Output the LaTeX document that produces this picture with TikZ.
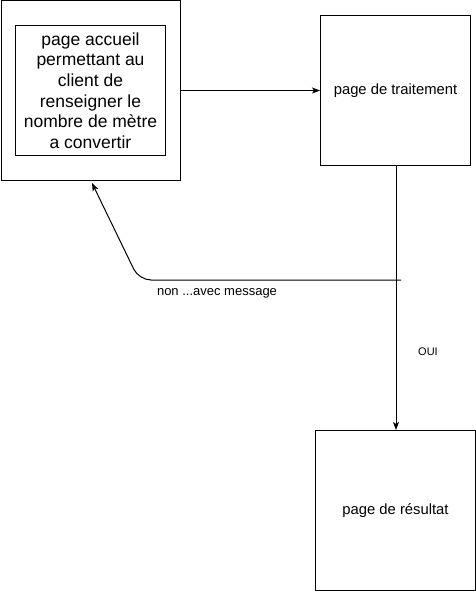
\documentclass[tikz,border=0pt]{standalone}
\usepackage{fontspec}
\setmainfont{Liberation Sans}
\usetikzlibrary{arrows.meta}
\begin{document}
\begin{tikzpicture}[x=1pt,y=-1pt,
  box/.style={draw=black,line width=1pt,inner sep=0pt,anchor=north west},
  conn/.style={draw=black,line width=1pt,-{Stealth[length=8pt,width=6pt,inset=2pt]}},
  lbl/.style={inner sep=0pt}]
\useasboundingbox (0,0) rectangle (476,591);
\node[box,minimum width=179pt,minimum height=179pt] (A) at (0.5,0.5) {};
\node[box,minimum width=150pt,minimum height=130pt,align=center,
  font=\fontsize{17.5}{20.7}\selectfont] (Ai) at (15,25)
  {page accueil\\permettant au\\client de\\renseigner le\\nombre de mètre\\a convertir};
\node[box,minimum width=150pt,minimum height=150pt,font=\fontsize{14.8}{17}\selectfont] (B) at (320,15) {page de traitement};
\node[box,minimum width=160pt,minimum height=160pt,font=\fontsize{14.8}{17}\selectfont] (C) at (315,430) {page de résultat};
\draw[conn] (A.east |- B.west) -- (B.west);
\draw[conn] (B.south -| 396,0) -- (C.north -| 396,0);
\coordinate (J) at (401,280);
\coordinate (T) at (92,183);
\draw[conn,rounded corners=12pt] (J) -- (139,280) -- (T);
\node[lbl,font=\fontsize{13}{15}\selectfont] (L1) at (217,293) {non ...avec message};
\node[lbl,font=\fontsize{11}{13}\selectfont] (L2) at (428,352) {OUI};
\end{tikzpicture}
\end{document}
